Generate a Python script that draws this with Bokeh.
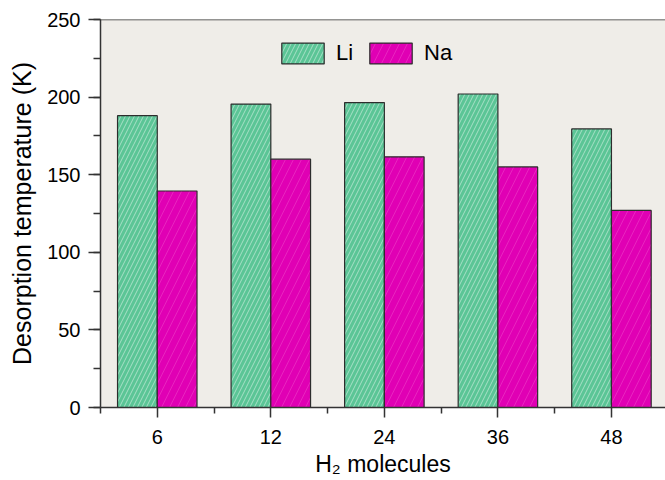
from bokeh.plotting import figure
from bokeh.models import (ColumnDataSource, Range1d, FixedTicker, SingleIntervalTicker,
                          Legend, LegendItem, Span)
from bokeh.transform import dodge
from bokeh.embed import file_html
from bokeh.resources import INLINE

# ---- data ----
molecules = ["6", "12", "24", "36", "48"]
li_temp = [188, 195.5, 196.5, 202, 179.5]
na_temp = [139.5, 160, 161.5, 155, 127]

pos = list(range(1, len(molecules) + 1))
src = ColumnDataSource(dict(x=pos, li=li_temp, na=na_temp))

FONT = "Liberation Sans"
GREEN = "#5BC596"
MAGENTA = "#E000B4"
BW = 0.35

p = figure(width=665, height=480, output_backend="svg", toolbar_location=None,
           x_range=Range1d(0.5, 5.476), y_range=Range1d(0, 250),
           min_border_left=100, min_border_top=19, min_border_bottom=73,
           min_border_right=0)
p.background_fill_color = "#EFEDE8"
p.border_fill_color = "white"
p.outline_line_color = None
p.xgrid.grid_line_color = None
p.ygrid.grid_line_color = None

r_li = p.vbar(x=dodge("x", -BW / 2, range=p.x_range), top="li", width=BW, source=src,
              fill_color=GREEN, line_color="#2d2d2d", line_width=1.2,
              hatch_pattern="/", hatch_color="white", hatch_alpha=0.45,
              hatch_scale=9, hatch_weight=1)
r_na = p.vbar(x=dodge("x", BW / 2, range=p.x_range), top="na", width=BW, source=src,
              fill_color=MAGENTA, line_color="#2d2d2d", line_width=1.2,
              hatch_pattern="/", hatch_color="#ff8ee0", hatch_alpha=0.25,
              hatch_scale=16, hatch_weight=1)

# top frame line
p.add_layout(Span(location=250, dimension="width", line_color="#333333", line_width=1.5))

# axes
xa = p.xaxis[0]
xa.ticker = FixedTicker(ticks=pos, minor_ticks=[i + 0.5 for i in range(len(molecules) + 1)])
xa.major_label_overrides = {i + 1: m for i, m in enumerate(molecules)}
xa.axis_label = "H₂ molecules"

ya = p.yaxis[0]
ya.ticker = SingleIntervalTicker(interval=50, num_minor_ticks=2)
ya.axis_label = "Desorption temperature (K)"

for ax in (xa, ya):
    ax.axis_line_color = "#333333"
    ax.axis_line_width = 1.5
    ax.major_tick_line_color = "#333333"
    ax.major_tick_line_width = 1.5
    ax.minor_tick_line_color = "#333333"
    ax.minor_tick_line_width = 1.5
    ax.major_tick_in = 0
    ax.minor_tick_in = 0
    ax.major_label_text_font = FONT
    ax.major_label_text_font_size = "20px"
    ax.major_label_text_color = "black"
    ax.axis_label_text_font = FONT
    ax.axis_label_text_font_style = "normal"
    ax.axis_label_text_color = "black"

ya.axis_label_text_font_size = "25px"
xa.axis_label_text_font_size = "23px"
ya.major_tick_out = 12
ya.minor_tick_out = 7
ya.major_label_standoff = 8
ya.axis_label_standoff = 8
xa.major_tick_out = 10
xa.minor_tick_out = 6
xa.major_label_standoff = 12
xa.axis_label_standoff = 4

legend = Legend(items=[LegendItem(label="Li", renderers=[r_li]),
                       LegendItem(label="Na", renderers=[r_na])],
                orientation="horizontal", location=(176, 341),
                glyph_width=53, glyph_height=26, label_standoff=7, spacing=8,
                padding=0, margin=0, border_line_color=None,
                background_fill_alpha=0,
                label_text_font=FONT, label_text_font_size="22px",
                label_text_color="black")
p.add_layout(legend)

open("out.html", "w").write(file_html(p, INLINE))
